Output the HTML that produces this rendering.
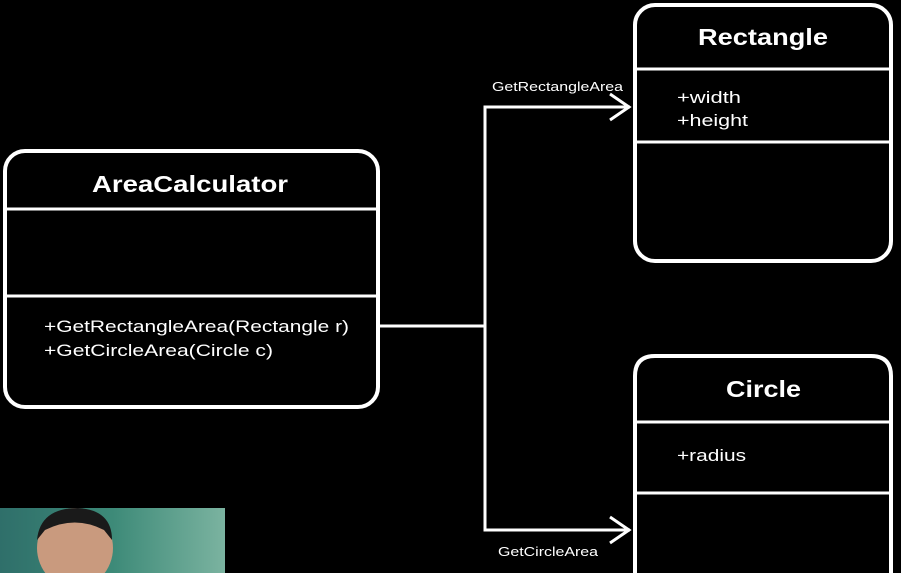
<!DOCTYPE html>
<html><head><style>
html,body{margin:0;padding:0;background:#000;width:901px;height:573px;overflow:hidden}
svg{display:block}
text{font-family:"Liberation Sans","DejaVu Sans",sans-serif;fill:#fff}
</style></head><body>
<svg width="901" height="573" viewBox="0 0 901 573">
<defs>
<linearGradient id="bg" x1="0" x2="1" y1="0" y2="0">
<stop offset="0" stop-color="#2f6f6a"/><stop offset="0.5" stop-color="#3d8a78"/><stop offset="1" stop-color="#7bb3a0"/>
</linearGradient>
</defs>
<rect width="901" height="573" fill="#000"/>
<!-- AreaCalculator -->
<rect x="5" y="151" width="373" height="256" rx="20" fill="none" stroke="#fff" stroke-width="4"/>
<line x1="5" y1="209" x2="378" y2="209" stroke="#fff" stroke-width="3"/>
<line x1="5" y1="296" x2="378" y2="296" stroke="#fff" stroke-width="3"/>
<text x="92" y="192" font-size="23" font-weight="bold" textLength="196" lengthAdjust="spacingAndGlyphs">AreaCalculator</text>
<text x="44" y="332" font-size="17" textLength="305" lengthAdjust="spacingAndGlyphs">+GetRectangleArea(Rectangle r)</text>
<text x="44" y="356" font-size="17" textLength="229" lengthAdjust="spacingAndGlyphs">+GetCircleArea(Circle c)</text>
<!-- Rectangle -->
<rect x="635" y="5" width="256" height="256" rx="20" fill="none" stroke="#fff" stroke-width="4"/>
<line x1="635" y1="69" x2="891" y2="69" stroke="#fff" stroke-width="3"/>
<line x1="635" y1="142" x2="891" y2="142" stroke="#fff" stroke-width="3"/>
<text x="698" y="45" font-size="23" font-weight="bold" textLength="130" lengthAdjust="spacingAndGlyphs">Rectangle</text>
<text x="677" y="103" font-size="17" textLength="64" lengthAdjust="spacingAndGlyphs">+width</text>
<text x="677" y="126" font-size="17" textLength="71" lengthAdjust="spacingAndGlyphs">+height</text>
<!-- Circle -->
<path d="M635 573 L635 376 Q635 356 655 356 L871 356 Q891 356 891 376 L891 573" fill="none" stroke="#fff" stroke-width="4"/>
<line x1="635" y1="422" x2="891" y2="422" stroke="#fff" stroke-width="3"/>
<line x1="635" y1="493" x2="891" y2="493" stroke="#fff" stroke-width="3"/>
<text x="726" y="397" font-size="23" font-weight="bold" textLength="75" lengthAdjust="spacingAndGlyphs">Circle</text>
<text x="677" y="461" font-size="17" textLength="69" lengthAdjust="spacingAndGlyphs">+radius</text>
<!-- connectors -->
<g stroke="#fff" stroke-width="3" fill="none">
<polyline points="378,326 485,326"/>
<polyline points="630,107 485,107 485,530 630,530"/>
<polyline points="610,94 629,107 610,120"/>
<polyline points="610,517 629,530 610,543"/>
</g>
<text x="492" y="91" font-size="13" textLength="131" lengthAdjust="spacingAndGlyphs">GetRectangleArea</text>
<text x="498" y="556" font-size="13" textLength="100" lengthAdjust="spacingAndGlyphs">GetCircleArea</text>
<!-- photo -->
<rect x="0" y="508" width="225" height="65" fill="url(#bg)"/>
<ellipse cx="75" cy="548" rx="38" ry="40" fill="#c99a7e"/>
<path d="M37 540 Q40 508 78 508 Q112 510 112 540 L104 530 Q75 515 45 530 Z" fill="#1a1a1a"/>
</svg>
</body></html>
